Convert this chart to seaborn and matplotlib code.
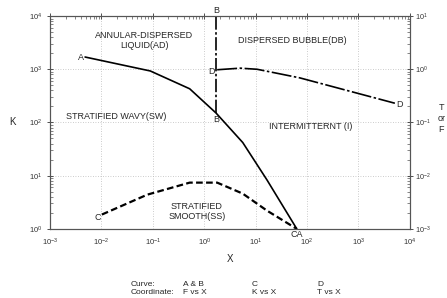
import matplotlib
matplotlib.use("Agg")
import matplotlib.pyplot as plt
import pandas as pd
import seaborn as sns
from matplotlib.ticker import LogLocator, NullFormatter

# Curve A & B: F vs X (right axis)
x_ab = [0.0048, 0.089, 0.52, 1.7, 5.6, 16.6, 63]
f_ab = [1.7, 0.93, 0.43, 0.15, 0.042, 0.0083, 0.001]
# vertical part of B
x_b = [1.7, 1.7]
f_b = [0.15, 10]
# Curve C: K vs X (left axis)
x_c = [0.0102, 0.078, 0.52, 1.78, 5.6, 16.6, 63]
k_c = [1.86, 4.4, 7.4, 7.4, 4.6, 2.2, 1.0]
# Curve D: T vs X (right axis)
x_d = [1.78, 5.0, 10.7, 72, 5100]
t_d = [0.98, 1.05, 1.0, 0.69, 0.23]

# decade ticks
x_ticks = [1e-3, 1e-2, 1e-1, 1e0, 1e1, 1e2, 1e3, 1e4]
k_ticks = [1e0, 1e1, 1e2, 1e3, 1e4]
tf_ticks = [1e-3, 1e-2, 1e-1, 1e0, 1e1]

sns.set_theme(style="white")
plt.rcParams["font.family"] = ["Liberation Sans", "DejaVu Sans"]
plt.rcParams["font.size"] = 6

fig = plt.figure(figsize=(4.47, 2.98), dpi=100)
ax = fig.add_axes([0.112, 0.232, 0.805, 0.714])
ax2 = ax.twinx()

ax.set_xscale("log")
ax.set_yscale("log")
ax2.set_yscale("log")

sns.lineplot(data=pd.DataFrame({"x": x_c, "y": k_c}), x="x", y="y", ax=ax,
             color="black", linewidth=1.6, linestyle=(0, (3, 1.5)), sort=False)
sns.lineplot(data=pd.DataFrame({"x": x_ab, "y": f_ab}), x="x", y="y", ax=ax2,
             color="black", linewidth=1.2, sort=False)
sns.lineplot(data=pd.DataFrame({"x": x_b, "y": f_b}), x="x", y="y", ax=ax2,
             color="black", linewidth=1.2, linestyle=(0, (8, 1.5, 1.5, 1.5)),
             sort=False, orient="y")
sns.lineplot(data=pd.DataFrame({"x": x_d, "y": t_d}), x="x", y="y", ax=ax2,
             color="black", linewidth=1.2, linestyle=(0, (12, 1.5, 1.5, 1.5)),
             sort=False)

for a in (ax, ax2):
    a.set_xlabel("")
    a.set_ylabel("")
    for s in a.spines.values():
        s.set_color("#555555")
        s.set_linewidth(0.8)

ax.set_xticks(x_ticks)
ax.set_yticks(k_ticks)
ax2.set_yticks(tf_ticks)
ax.xaxis.set_minor_locator(LogLocator(base=10, subs=range(2, 10), numticks=20))
ax.xaxis.set_minor_formatter(NullFormatter())
for a in (ax, ax2):
    a.yaxis.set_minor_locator(LogLocator(base=10, subs=range(2, 10), numticks=20))
    a.yaxis.set_minor_formatter(NullFormatter())

ax.set_xlim(x_ticks[0], x_ticks[-1])
ax.set_ylim(k_ticks[0], k_ticks[-1])
ax2.set_ylim(tf_ticks[0], tf_ticks[-1])

ax.tick_params(which="major", direction="inout", length=4, width=0.6,
               labelsize=5.5, top=True, right=False, colors="#333333")
ax.tick_params(which="minor", direction="in", length=2, width=0.5,
               top=True, right=False, colors="#555555")
ax.tick_params(axis="x", pad=4)
ax2.tick_params(which="major", direction="inout", length=4, width=0.6,
                labelsize=5.2, pad=2, colors="#333333")
ax2.tick_params(which="minor", direction="in", length=2, width=0.5, colors="#555555")

ax.grid(True, which="major", linestyle=(0, (1, 2)), color="#bbbbbb", linewidth=0.6)

ax.set_xlabel("X", fontsize=7, labelpad=4)
ax.set_ylabel("K", fontsize=7, rotation=0, labelpad=12, va="center")
ax2.set_ylabel("T\nor\nF", fontsize=6.5, rotation=0, va="center", ha="center",
               linespacing=1.3)
ax2.yaxis.set_label_coords(1.087, 0.52)

# point labels
def lab(a, txt, xy, off, ha, va):
    a.annotate(txt, xy, xytext=off, textcoords="offset points", ha=ha, va=va, fontsize=6.5)

lab(ax2, "A", (x_ab[0], f_ab[0]), (-1, 0), "right", "center")
lab(ax2, "B", (x_b[1], f_b[1]), (0, 1), "center", "bottom")
lab(ax2, "B", (x_b[0], f_b[0]), (0, -1), "center", "top")
lab(ax2, "D", (x_d[0], t_d[0]), (-1.5, -1.5), "right", "center")
lab(ax2, "D", (x_d[-1], t_d[-1]), (1, -1), "left", "center")
lab(ax, "C", (x_c[0], k_c[0]), (-1, -2), "right", "center")
lab(ax2, "CA", (x_ab[-1], f_ab[-1]), (0, -0.5), "center", "top")

# region labels
kw = dict(ha="center", va="center", fontsize=6.5, linespacing=1.1)
ax2.text(0.068, 3.5, "ANNULAR-DISPERSED\nLIQUID(AD)", **kw)
ax2.text(51, 3.5, "DISPERSED BUBBLE(DB)", **kw)
ax2.text(0.019, 0.127, "STRATIFIED WAVY(SW)", **kw)
ax2.text(120, 0.083, "INTERMITTERNT (I)", **kw)
ax2.text(0.72, 0.0021, "STRATIFIED\nSMOOTH(SS)", **kw)

# footer
fkw = dict(fontsize=6, va="center", ha="left")
fig.text(131 / 447, 1 - 284 / 298, "Curve:", **fkw)
fig.text(131 / 447, 1 - 293 / 298, "Coordinate:", **fkw)
fig.text(183 / 447, 1 - 284 / 298, "A & B", **fkw)
fig.text(183 / 447, 1 - 293 / 298, "F vs X", **fkw)
fig.text(252 / 447, 1 - 284 / 298, "C", **fkw)
fig.text(252 / 447, 1 - 293 / 298, "K vs X", **fkw)
fig.text(317 / 447, 1 - 284 / 298, "D", **fkw)
fig.text(317 / 447, 1 - 293 / 298, "T vs X", **fkw)

fig.savefig("out.png", dpi=100)
